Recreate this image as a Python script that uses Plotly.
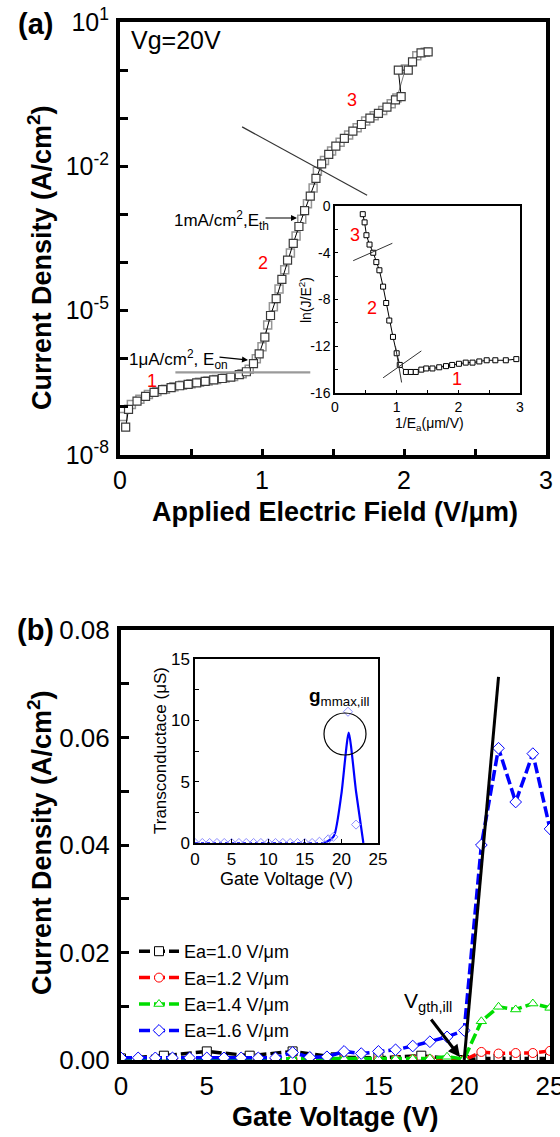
import plotly.graph_objects as go

W, H = 560, 1137
FONT = "Liberation Sans, Arial, sans-serif"


def px(x):
    return x / W


def py(y):
    return 1 - y / H


# ---------------- Panel (a) main: J-E curve (two sweeps) ----------------
a_sweep1_E = [0.04, 0.06, 0.12, 0.18, 0.24, 0.30, 0.36, 0.42, 0.48, 0.54, 0.60, 0.66,
              0.72, 0.78, 0.84, 0.89, 0.94, 0.98, 1.02, 1.06, 1.10, 1.14, 1.18, 1.22,
              1.26, 1.30, 1.34, 1.38, 1.42, 1.47, 1.52, 1.58, 1.64, 1.70, 1.76, 1.82,
              1.88, 1.94, 1.98, 1.96, 2.03, 2.06, 2.12, 2.17]
a_sweep1_J = [3.8e-8, 8.9e-8, 1.32e-7, 1.66e-7, 2.0e-7, 2.29e-7, 2.51e-7, 2.75e-7, 2.95e-7,
              3.16e-7, 3.39e-7, 3.63e-7, 3.89e-7, 4.17e-7, 4.68e-7, 5.37e-7, 7.94e-7,
              1.26e-6, 2.82e-6, 7.94e-6, 1.78e-5, 4.47e-5, 1.12e-4, 2.51e-4, 5.62e-4,
              1.20e-3, 2.40e-3, 5.62e-3, 1.12e-2, 1.78e-2, 2.63e-2, 3.80e-2, 5.37e-2,
              7.41e-2, 0.100, 0.126, 0.170, 0.240, 0.282, 1.00, 1.00, 1.48, 2.29, 2.40]

a_sweep2_E = [0.02, 0.08, 0.14, 0.20, 0.26, 0.32, 0.38, 0.44, 0.50, 0.56, 0.62, 0.68,
              0.74, 0.80, 0.86, 0.91, 0.96, 1.00, 1.04, 1.08, 1.12, 1.16, 1.20, 1.24,
              1.28, 1.32, 1.36, 1.39, 1.44, 1.49, 1.55, 1.61, 1.67, 1.73, 1.79, 1.85,
              1.91, 1.95, 2.01, 2.09, 2.15]
a_sweep2_J = [6.3e-8, 1.12e-7, 1.45e-7, 1.82e-7, 2.09e-7, 2.34e-7, 2.63e-7, 2.82e-7,
              3.02e-7, 3.24e-7, 3.47e-7, 3.72e-7, 3.98e-7, 4.27e-7, 4.90e-7, 6.03e-7,
              1.0e-6, 1.78e-6, 5.01e-6, 1.20e-5, 2.82e-5, 7.08e-5, 1.58e-4, 3.55e-4,
              7.94e-4, 1.66e-3, 3.55e-3, 7.94e-3, 1.32e-2, 2.09e-2, 3.16e-2, 4.47e-2,
              6.31e-2, 8.71e-2, 0.112, 0.145, 0.200, 0.263, 1.05, 2.0, 2.34]

a_onset_line_E = [0.39, 1.34]
a_onset_line_J = [5.2e-7, 5.2e-7]
a_cross_line_E = [0.86, 1.74]
a_cross_line_J = [0.066, 0.0025]

a_ytick_vals = [1e1, 1e0, 1e-1, 1e-2, 1e-3, 1e-4, 1e-5, 1e-6, 1e-7, 1e-8]
a_ytick_text = ["10<sup>1</sup>", "", "", "10<sup>-2</sup>", "", "",
                "10<sup>-5</sup>", "", "", "10<sup>-8</sup>"]
a_xtick_vals = [0, 0.5, 1, 1.5, 2, 2.5, 3]
a_xtick_text = ["0", "", "1", "", "2", "", "3"]

# ---------------- Panel (a) inset: F-N plot ----------------
fn_invE = [0.45, 0.48, 0.51, 0.56, 0.62, 0.67, 0.72, 0.78, 0.83, 0.88, 0.94, 1.00,
           1.05, 1.15, 1.23, 1.31, 1.40, 1.48, 1.58, 1.69, 1.80, 1.90, 2.01, 2.12,
           2.23, 2.34, 2.46, 2.60, 2.77, 2.94]
fn_lnJE2 = [-0.7, -1.4, -2.5, -3.3, -4.0, -4.8, -5.5, -6.9, -8.3, -9.8, -11.2, -12.6,
            -13.6, -14.2, -14.2, -14.2, -14.0, -13.9, -13.9, -13.8, -13.7, -13.6,
            -13.5, -13.4, -13.4, -13.3, -13.2, -13.2, -13.2, -13.1]
fn_fit_upper_x = [0.295, 0.93]
fn_fit_upper_y = [-4.68, -3.19]
fn_fit_lower_x = [0.78, 1.40]
fn_fit_lower_y = [-14.7, -12.4]
fn_fit_steep_x = [0.98, 1.08]
fn_fit_steep_y = [-12.0, -15.1]

# ---------------- Panel (b) main: transfer curves ----------------
vg_blue = list(range(0, 26))
j_blue = [0.0004, 0.0004, 0.0004, 0.0004, 0.0004, 0.0004, 0.0004, 0.0004, 0.0004, 0.0004,
          0.0014, 0.0005, 0.0006, 0.0016, 0.0012, 0.0016, 0.0019, 0.0026, 0.0034, 0.0043,
          0.0055, 0.040, 0.058, 0.048, 0.057, 0.043]
vg_green = list(range(0, 26))
j_green = [0.0002, 0.0002, 0.0002, 0.0002, 0.0002, 0.0002, 0.0002, 0.0002, 0.0002, 0.0002,
           0.0002, 0.0002, 0.0002, 0.0002, 0.0002, 0.0002, 0.0002, 0.0002, 0.0003, 0.0006,
           0.0002, 0.0072, 0.0099, 0.0094, 0.0105, 0.0097]
vg_red = list(range(0, 26))
j_red = [0.0001, 0.0001, 0.0001, 0.0001, 0.0001, 0.0001, 0.0001, 0.0001, 0.0001, 0.0001,
         0.0001, 0.0001, 0.0001, 0.0001, 0.0001, 0.0001, 0.0001, 0.0001, 0.0001, 0.0001,
         0.0, 0.0015, 0.0012, 0.0013, 0.0013, 0.0017]
vg_black = [0, 2.5, 5, 7.5, 10, 12.5, 15, 17.5, 20, 21, 22, 23, 24, 25]
j_black = [0.0003, 0.0008, 0.0016, 0.0008, 0.0016, 0.0005, 0.0004, 0.0008, 0.0,
           0.0003, 0.0003, 0.0003, 0.0003, 0.0003]
vth_fit_vg = [20.0, 22.0]
vth_fit_j = [0.0, 0.0713]

b_ytick_vals = [0, 0.01, 0.02, 0.03, 0.04, 0.05, 0.06, 0.07, 0.08]
b_ytick_text = ["0.00", "", "0.02", "", "0.04", "", "0.06", "", "0.08"]

# ---------------- Panel (b) inset: transconductance ----------------
gm_flat_vg = [0, 17.5]
gm_flat = [0, 0]
gm_curve_vg = [17.5, 18, 19, 20, 21, 22, 23]
gm_curve = [0.0, 0.1, 0.6, 4.0, 9.0, 4.2, 0.0]
gm_pts_vg = [0, 1, 2, 3, 4, 5, 6, 7, 8, 9, 10, 11, 12, 13, 14, 15, 16, 17, 18.2, 18.9, 20.9, 22.0]
gm_pts = [0, 0, 0, 0, 0, 0, 0, 0, 0, 0, 0, 0, 0, 0, 0, 0, 0, 0.1, 0.3, 0.5, 10.7, 1.5]

fig = go.Figure()

# panel (a) main traces
fig.add_trace(go.Scatter(x=a_sweep2_E, y=a_sweep2_J, mode="lines+markers", xaxis="x", yaxis="y",
                         line=dict(color="#7a7a7a", width=1),
                         marker=dict(symbol="square", size=8, color="white",
                                     line=dict(color="#959595", width=1.5)),
                         showlegend=False))
fig.add_trace(go.Scatter(x=a_sweep1_E, y=a_sweep1_J, mode="lines+markers", xaxis="x", yaxis="y",
                         line=dict(color="black", width=1),
                         marker=dict(symbol="square", size=8, color="white",
                                     line=dict(color="#3a3a3a", width=1.2)),
                         showlegend=False))
fig.add_trace(go.Scatter(x=a_onset_line_E, y=a_onset_line_J, mode="lines", xaxis="x", yaxis="y",
                         line=dict(color="#9a9a9a", width=2.2), showlegend=False))
fig.add_trace(go.Scatter(x=a_cross_line_E, y=a_cross_line_J, mode="lines", xaxis="x", yaxis="y",
                         line=dict(color="#333333", width=1.2), showlegend=False))

# panel (a) inset traces
fig.add_trace(go.Scatter(x=fn_invE, y=fn_lnJE2, mode="lines+markers", xaxis="x2", yaxis="y2",
                         line=dict(color="black", width=1),
                         marker=dict(symbol="square", size=5, color="white",
                                     line=dict(color="black", width=1)),
                         showlegend=False))
for fx, fy in [(fn_fit_upper_x, fn_fit_upper_y), (fn_fit_lower_x, fn_fit_lower_y),
               (fn_fit_steep_x, fn_fit_steep_y)]:
    fig.add_trace(go.Scatter(x=fx, y=fy, mode="lines", xaxis="x2", yaxis="y2",
                             line=dict(color="#333333", width=1), showlegend=False))

# panel (b) main traces
DASH = "11px,4px"
series_b = [
    (vg_black, j_black, "black", "square", "Ea=1.0 V/\u03bcm"),
    (vg_red, j_red, "#ff0000", "circle", "Ea=1.2 V/\u03bcm"),
    (vg_green, j_green, "#00dd00", "triangle-up", "Ea=1.4 V/\u03bcm"),
    (vg_blue, j_blue, "#0000ff", "diamond", "Ea=1.6 V/\u03bcm"),
]
for vx, jy, col, sym, name in series_b:
    fig.add_trace(go.Scatter(x=vx, y=jy, mode="lines+markers", xaxis="x3", yaxis="y3", name=name,
                             line=dict(color=col, width=3.5, dash=DASH),
                             marker=dict(symbol=sym, size=9, color="white",
                                         line=dict(color=col, width=1))))
fig.add_trace(go.Scatter(x=vth_fit_vg, y=vth_fit_j, mode="lines", xaxis="x3", yaxis="y3",
                         line=dict(color="black", width=3), showlegend=False))

# panel (b) inset traces
fig.add_trace(go.Scatter(x=gm_flat_vg, y=gm_flat, mode="lines", xaxis="x4", yaxis="y4",
                         line=dict(color="#0000ff", width=1.5, dash="dot"), showlegend=False))
fig.add_trace(go.Scatter(x=gm_curve_vg, y=gm_curve, mode="lines", xaxis="x4", yaxis="y4",
                         line=dict(color="#0000ff", width=2.2, shape="spline", smoothing=0.6),
                         showlegend=False))
fig.add_trace(go.Scatter(x=gm_pts_vg, y=gm_pts, mode="markers", xaxis="x4", yaxis="y4",
                         marker=dict(symbol="diamond", size=7, color="rgba(255,255,255,0)",
                                     line=dict(color="#8c8cff", width=1)),
                         showlegend=False))

axis_common = dict(showline=True, mirror=True, linecolor="black", showgrid=False,
                   zeroline=False, ticks="inside", tickcolor="black", automargin=False)

layout = dict(
    template="none",
    width=W, height=H, autosize=False,
    margin=dict(l=0, r=0, t=0, b=0, pad=0),
    paper_bgcolor="white", plot_bgcolor="white",
    font=dict(family=FONT, color="black"),
    xaxis=dict(domain=[px(120), px(546)], range=[0, 3], anchor="y",
               tickvals=a_xtick_vals, ticktext=a_xtick_text, ticklen=6, tickwidth=3,
               linewidth=4, tickfont=dict(size=25), ticklabelstandoff=0,
               ticklabeloverflow="allow", **axis_common),
    yaxis=dict(domain=[py(455), py(22)], type="log", range=[-8, 1], anchor="x",
               tickvals=a_ytick_vals, ticktext=a_ytick_text, ticklen=8, tickwidth=3,
               linewidth=4, tickfont=dict(size=25), ticklabelstandoff=2, **axis_common),
    xaxis2=dict(domain=[px(335), px(520)], range=[0, 3], anchor="y2",
                tickvals=[0, 0.5, 1, 1.5, 2, 2.5, 3], ticktext=["0", "", "1", "", "2", "", "3"],
                ticklen=3, tickwidth=1, linewidth=1.5, tickfont=dict(size=14),
                **axis_common),
    yaxis2=dict(domain=[py(393), py(206)], range=[-16, 0], anchor="x2",
                tickvals=[-16, -14, -12, -10, -8, -6, -4, -2, 0],
                ticktext=["-16", "", "-12", "", "-8", "", "-4", "", "0"],
                ticklen=3, tickwidth=1, linewidth=1.5, tickfont=dict(size=14),
                **axis_common),
    xaxis3=dict(domain=[px(121), px(550)], range=[0, 25], anchor="y3",
                tickvals=[0, 5, 10, 15, 20, 25], ticklen=0, tickwidth=0,
                linewidth=4, tickfont=dict(size=26), ticklabelstandoff=0,
                ticklabeloverflow="allow",
                **{k: v for k, v in axis_common.items() if k != "ticks"}),
    yaxis3=dict(domain=[py(1060), py(630)], range=[0, 0.08], anchor="x3",
                tickvals=b_ytick_vals, ticktext=b_ytick_text, ticklen=8, tickwidth=3,
                linewidth=4, tickfont=dict(size=26), ticklabelstandoff=2, **axis_common),
    xaxis4=dict(domain=[px(195), px(378)], range=[0, 25], anchor="y4",
                tickvals=[0, 5, 10, 15, 20, 25], ticklen=4, tickwidth=1,
                linewidth=1.5, tickfont=dict(size=17), **axis_common),
    yaxis4=dict(domain=[py(843), py(659)], range=[0, 15], anchor="x4",
                tickvals=[0, 2.5, 5, 7.5, 10, 12.5, 15], ticktext=["0", "", "5", "", "10", "", "15"],
                ticklen=4, tickwidth=1, linewidth=1.5, tickfont=dict(size=17),
                **axis_common),
    legend=dict(x=px(134), y=py(933), xanchor="left", yanchor="top",
                bgcolor="rgba(0,0,0,0)", font=dict(size=18, family=FONT),
                itemwidth=40, tracegroupgap=0),
)
fig.update_layout(**layout)


def note(x, y, text, size, xanchor="center", yanchor="middle", color="black", angle=0, bold=False):
    t = f"<b>{text}</b>" if bold else text
    fig.add_annotation(x=px(x), y=py(y), xref="paper", yref="paper", text=t, showarrow=False,
                       xanchor=xanchor, yanchor=yanchor, textangle=angle,
                       font=dict(size=size, color=color, family=FONT))


def arrow(x_head, y_head, ax, ay, width=1.2, head=2, size=1):
    fig.add_annotation(x=px(x_head), y=py(y_head), xref="paper", yref="paper", text="",
                       showarrow=True, ax=ax, ay=ay, arrowhead=head, arrowwidth=width,
                       arrowsize=size, arrowcolor="black")


# panel labels and titles
note(35, 24, "(a)", 29, bold=True)
note(35, 630, "(b)", 29, bold=True)
note(40, 258, "Current Density (A/cm<sup>2</sup>)", 27, angle=-90, bold=True)
note(335, 512, "Applied Electric Field (V/\u03bcm)", 27, bold=True)
note(40, 843, "Current Density (A/cm<sup>2</sup>)", 27, angle=-90, bold=True)
note(335, 1117, "Gate Voltage (V)", 27, bold=True)

# panel (a) texts
note(129, 40, "Vg=20V", 25, xanchor="left")
note(152, 381, "1", 18, color="#ff0000")
note(263, 263, "2", 18, color="#ff0000")
note(352, 100, "3", 18, color="#ff0000")
note(172, 221, "1mA/cm<sup>2</sup>,E<sub>th</sub>", 17, xanchor="left")
arrow(297, 218, -33, 0)
note(127, 359, "1\u03bcA/cm<sup>2</sup>, E<sub>on</sub>", 17, xanchor="left")
arrow(248, 360, -30, -3)

# inset (a) texts
note(305, 300, "ln(J/E<sup>2</sup>)", 14, angle=-90)
note(429, 424, "1/E<sub>a</sub>(\u03bcm/V)", 14)
note(355, 235, "3", 18, color="#ff0000")
note(372, 308, "2", 18, color="#ff0000")
note(457, 379, "1", 18, color="#ff0000")

# inset (b) texts
note(160, 751, "Transconductace (\u03bcS)", 17, angle=-90)
note(286, 879, "Gate Voltage (V)", 18)
note(307, 697, "<b>g</b><sub>mmax,ill</sub>", 19, xanchor="left")
fig.add_shape(type="circle", xref="paper", yref="paper",
              x0=px(324), x1=px(366), y0=py(755), y1=py(713),
              line=dict(color="black", width=1.2))

# panel (b) threshold annotation
note(402, 1002, "V<sub>gth,ill</sub>", 21, xanchor="left")
arrow(460, 1057, -30, -39, width=3, head=2, size=0.8)

fig.write_html("out.html")
